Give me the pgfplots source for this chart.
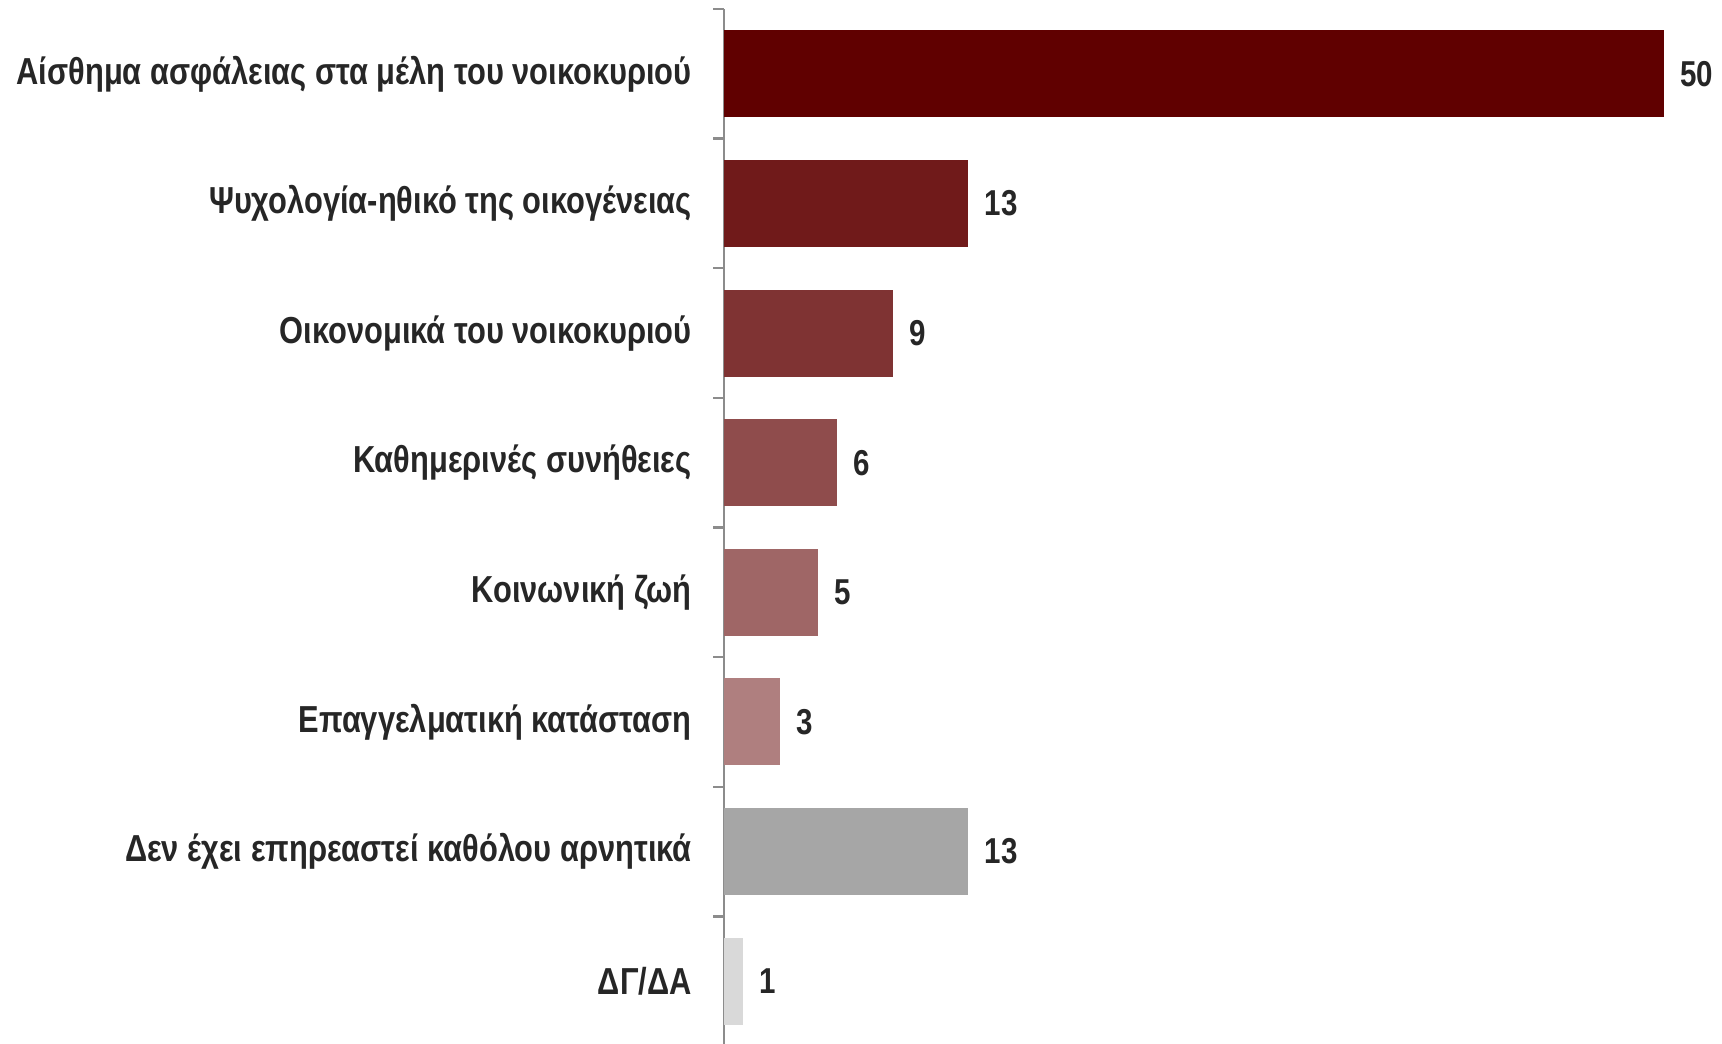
\documentclass[border=0pt]{standalone}
\usepackage{fontspec}
\setmainfont{Liberation Sans}[FakeStretch=0.82]
\usepackage{pgfplots}
\pgfplotsset{compat=1.18}

\definecolor{txt}{HTML}{262626}
\definecolor{axgray}{HTML}{8C8C8C}
\definecolor{c0}{HTML}{600000}
\definecolor{c1}{HTML}{701A1A}
\definecolor{c2}{HTML}{7F3333}
\definecolor{c3}{HTML}{8F4C4C}
\definecolor{c4}{HTML}{9F6666}
\definecolor{c5}{HTML}{AF7F7F}
\definecolor{c6}{HTML}{A6A6A6}
\definecolor{c7}{HTML}{D9D9D9}

\begin{document}
\begin{tikzpicture}
\useasboundingbox (0,0) rectangle (861pt,521.5pt);
\begin{axis}[
  at={(362pt,-1.5pt)}, anchor=south west,
  scale only axis, width=469.8pt, height=518.5pt,
  xbar, bar width=0.671, bar shift=0pt,
  xmin=0, xmax=50,
  ymin=-0.5, ymax=7.5, y dir=reverse,
  axis x line=none, axis y line*=left,
  y axis line style={draw=axgray, line width=1pt, -},
  ytick={0,...,7},
  yticklabels={Αίσθημα ασφάλειας στα μέλη του νοικοκυριού,
    Ψυχολογία-ηθικό της οικογένειας,
    Οικονομικά του νοικοκυριού,
    Καθημερινές συνήθειες,
    Κοινωνική ζωή,
    Επαγγελματική κατάσταση,
    Δεν έχει επηρεαστεί καθόλου αρνητικά,
    ΔΓ/ΔΑ},
  major tick length=0pt,
  minor ytick={-0.5,0.5,...,7.5},
  minor tick length=5.5pt, tick align=outside,
  minor tick style={draw=axgray, line width=1.2pt},
  yticklabel style={font=\fontsize{18.8pt}{21pt}\selectfont\bfseries, text=txt, anchor=east, inner sep=0pt, xshift=-16pt},
  /pgf/number format/assume math mode=true,
  nodes near coords,
  every node near coord/.append style={font=\fontsize{18pt}{20pt}\selectfont\bfseries, text=txt, anchor=west, inner sep=0pt, xshift=8pt},
  clip=false,
]
\addplot[fill=c0, draw=none] coordinates {(50,0)};
\addplot[fill=c1, draw=none] coordinates {(13,1)};
\addplot[fill=c2, draw=none] coordinates {(9,2)};
\addplot[fill=c3, draw=none] coordinates {(6,3)};
\addplot[fill=c4, draw=none] coordinates {(5,4)};
\addplot[fill=c5, draw=none] coordinates {(3,5)};
\addplot[fill=c6, draw=none] coordinates {(13,6)};
\addplot[fill=c7, draw=none] coordinates {(1,7)};
\end{axis}
\end{tikzpicture}
\end{document}
